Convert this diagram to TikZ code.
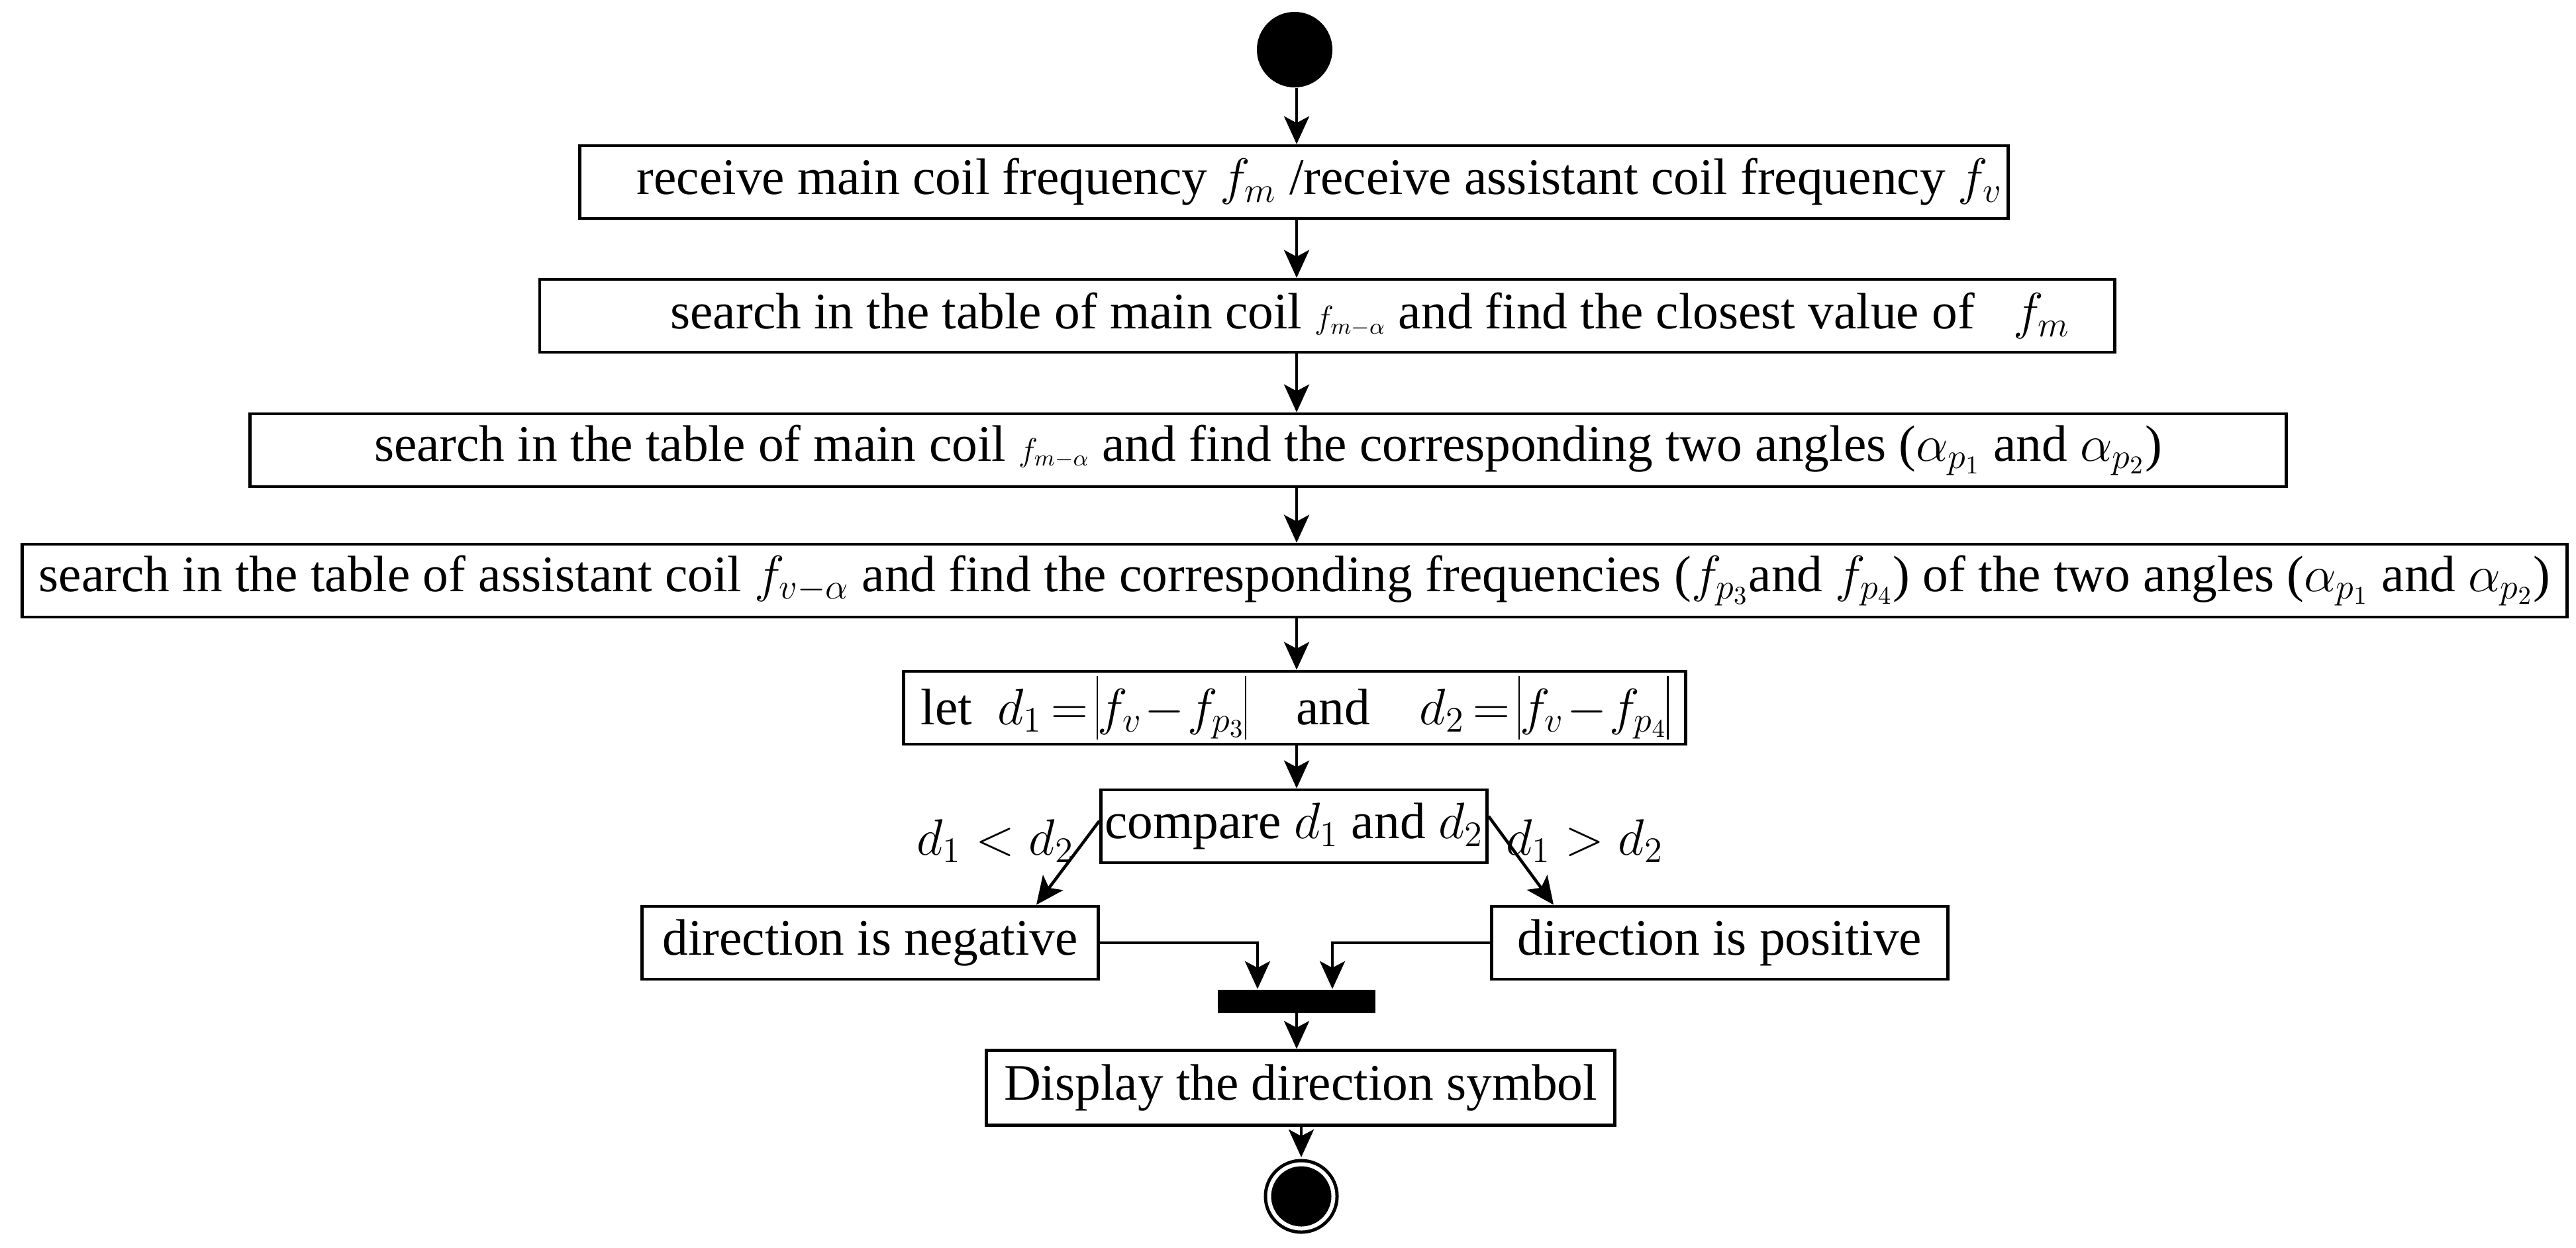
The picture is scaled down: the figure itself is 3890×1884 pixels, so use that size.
\documentclass[tikz,border=0pt]{standalone}
\usepackage{fix-cm}
\usepackage{amsmath}
\usepackage{fontspec}
\setmainfont{Liberation Serif}
\usetikzlibrary{arrows.meta}
\newcommand{\smallsym}[1]{{\fontsize{14}{16}\selectfont$#1$}}
\newcommand{\tallbar}{\mathord{\rule[-0.23cm]{0.6pt}{0.96cm}}}

\begin{document}
\begin{tikzpicture}[x=0.01cm,y=-0.01cm,
        font=\fontsize{22}{26}\selectfont,
        box/.style={draw, line width=1.3pt, minimum height=1.1cm, inner sep=0pt},
        flow/.style={-{Stealth[length=0.42cm,width=0.38cm,inset=0.1cm]}, line width=1.3pt}]
        \useasboundingbox (0,0) rectangle (3890,1884);
        \coordinate (axis) at (1958,0);
        \node[circle, fill=black, minimum size=1.14cm, inner sep=0pt] (start) at (1955,75) {};
        \node[box, minimum width=21.56cm] (recv) at (1954,275) {\quad receive main coil frequency $f_m$ /receive assistant coil frequency $f_v$};
        \node[box, minimum width=23.77cm] (closest) at (2004,477) {\hspace*{1.3cm}search in the table of main coil \smallsym{f_{m-\alpha}} and find the closest value of \ \ $f_m$};
        \node[box, minimum width=30.73cm] (angles) at (1915,680) {search in the table of main coil \smallsym{f_{m-\alpha}} and find the corresponding two angles ($\alpha_{p_1}$ and $\alpha_{p_2}$)};
        \node[box, minimum width=38.41cm] (freqs) at (1955,877) {search in the table of assistant coil $f_{v-\alpha}$ and find the corresponding frequencies ($f_{p_3}$and $f_{p_4}$) of the two angles ($\alpha_{p_1}$ and $\alpha_{p_2}$)};
        \node[box, minimum width=11.8cm] (let) at (1955,1069) {\medmuskip=1mu \thickmuskip=3mu
            let \ $d_1=\tallbar f_v-f_{p_3}\tallbar$\hspace{0.75cm}and\hspace{0.75cm}$d_2=\tallbar f_v-f_{p_4}\tallbar$};
        \node[box, minimum width=5.83cm] (cmp) at (1954,1248) {compare $d_1$ and $d_2$};
        \node[box, minimum width=6.89cm] (neg) at (1314,1424) {direction is negative};
        \node[box, minimum width=6.89cm] (pos) at (2597,1424) {direction is positive};
        \node[fill=black, minimum width=2.37cm, minimum height=0.35cm, inner sep=0pt] (bar) at (1958,1512) {};
        \node[box, minimum width=9.48cm, minimum height=1.13cm] (disp) at (1964,1643) {Display the direction symbol};
        \node[circle, draw, fill=black, double=white, double distance=0.06cm, line width=0.05cm, minimum size=0.97cm, inner sep=0pt] (stop) at (1965,1807) {};
        \node (lt) at (1503,1270) {$d_1<d_2$};
        \node (gt) at (2393,1270) {$d_1>d_2$};
        \draw[flow] (start.south -| axis) -- (recv.north -| axis);
        \draw[flow] (recv.south -| axis) -- (closest.north -| axis);
        \draw[flow] (closest.south -| axis) -- (angles.north -| axis);
        \draw[flow] (angles.south -| axis) -- (freqs.north -| axis);
        \draw[flow] (freqs.south -| axis) -- (let.north -| axis);
        \draw[flow] (let.south -| axis) -- (cmp.north -| axis);
        \draw[flow] ([yshift=0.08cm]cmp.west) -- ([xshift=-0.96cm]neg.north east);
        \draw[flow] ([yshift=0.15cm]cmp.east) -- ([xshift=0.96cm]pos.north west);
        \draw[flow] (neg.east) -| ([xshift=-0.59cm]bar.north);
        \draw[flow] (pos.west) -| ([xshift=0.54cm]bar.north);
        \draw[flow] (bar.south) -- (disp.north -| bar);
        \draw[flow] (disp.south -| stop) -- ([yshift=0.08cm]stop.north);
    \end{tikzpicture}
\end{document}
